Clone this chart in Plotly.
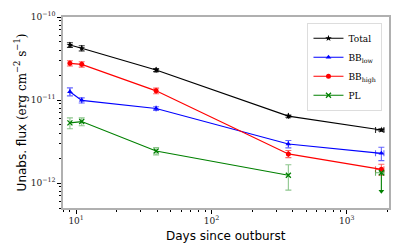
import plotly.graph_objects as go
import numpy as np

# Data
days = [9.0, 11.0, 39.0, 370.0, 1800.0]
days_err_minus = [0, 0, 0, 0, 170.0]
days_err_plus = [0, 0, 0, 0, 80.0]

total = [4.6e-11, 4.2e-11, 2.3e-11, 6.4e-12, 4.35e-12]
total_err = [0.3e-11, 0.3e-11, 0.1e-11, 0.2e-12, 0.15e-12]

bb_low = [1.26e-11, 9.9e-12, 7.9e-12, 2.95e-12, 2.28e-12]
bb_low_err = [0.14e-11, 0.7e-12, 0.4e-12, 0.3e-12, 0.42e-12]

bb_high = [2.77e-11, 2.69e-11, 1.29e-11, 2.24e-12, 1.46e-12]
bb_high_err = [0.2e-11, 0.2e-11, 0.1e-11, 0.22e-12, 0.22e-12]

pl_days = [9.0, 11.0, 39.0, 370.0]
pl = [5.3e-12, 5.5e-12, 2.43e-12, 1.24e-12]
pl_err = [0.8e-12, 0.6e-12, 0.25e-12, 0.42e-12]

pl_ul_days = [1800.0]
pl_ul = [1.33e-12]
pl_ul_arrow_factor = 0.6  # arrow length (relative)

SERIF = "DejaVu Serif"
SANS = "DejaVu Sans"

fig = go.Figure()

def add_series(x, y, err, color, symbol, name, size, ecolor, xm=None, xp=None, showlegend=True, mline=0):
    kw = {}
    if xm is not None:
        kw["error_x"] = dict(type="data", symmetric=False, array=xp, arrayminus=xm,
                             color=ecolor, thickness=1.1, width=3)
    fig.add_trace(go.Scatter(
        x=x, y=y, mode="lines+markers", name=name, showlegend=showlegend,
        line=dict(color=color, width=1.2),
        marker=dict(symbol=symbol, size=size, color=color, line=dict(width=mline, color=color)),
        error_y=dict(type="data", array=err, color=ecolor, thickness=1.1, width=3),
        **kw))

add_series(days, total, total_err, "black", "star", "Total", 5, "rgba(0,0,0,0.8)",
           days_err_minus, days_err_plus)
add_series(days, bb_low, bb_low_err, "#0000ff", "triangle-up", "BB<sub>low</sub>", 5,
           "rgba(0,0,255,0.6)", days_err_minus, days_err_plus)
add_series(days, bb_high, bb_high_err, "#ff0000", "circle", "BB<sub>high</sub>", 5,
           "rgba(255,0,0,0.6)", days_err_minus, days_err_plus)
add_series(pl_days, pl, pl_err, "#008000", "x-thin-open", "PL", 5, "rgba(0,128,0,0.45)", mline=1.3)

# PL upper limit
ul_low = [v * pl_ul_arrow_factor for v in pl_ul]
fig.add_trace(go.Scatter(
    x=pl_ul_days, y=pl_ul, mode="markers", showlegend=False,
    marker=dict(symbol="x-thin-open", size=5, color="#008000", line=dict(width=1.3, color="#008000")),
    error_x=dict(type="data", symmetric=False, array=[days_err_plus[-1]],
                 arrayminus=[days_err_minus[-1]], color="rgba(0,128,0,0.6)", thickness=1.1, width=3),
    error_y=dict(type="data", symmetric=False, array=[0],
                 arrayminus=[pl_ul[0] - ul_low[0]], color="#008000", thickness=1.1, width=0)))
fig.add_trace(go.Scatter(
    x=pl_ul_days, y=ul_low, mode="markers", showlegend=False,
    marker=dict(symbol="triangle-down", size=5, color="#008000")))

sup = lambda e: f"10<sup>{e}</sup>"
ytickvals = [1e-12, 1e-11, 1e-10]
yticktext = [sup("−12"), sup("−11"), sup("−10")]
xtickvals = [10, 100, 1000]
xticktext = [sup("1"), sup("2"), sup("3")]

yminor = [m * 10.0 ** e for e in (-13, -12, -11) for m in range(2, 10)]
xminor = [m * 10.0 ** e for e in (0, 1, 2, 3) for m in range(2, 10)]

axis_color = "#b0b0b0"
fig.update_xaxes(
    type="log", range=[np.log10(8.0), np.log10(2050)], automargin=False,
    tickvals=xtickvals, ticktext=xticktext,
    ticks="outside", ticklen=4, tickwidth=1, tickcolor="black",
    minor=dict(tickvals=xminor, ticks="outside", ticklen=2.5, tickwidth=0.8, tickcolor="black"),
    showline=True, linecolor=axis_color, linewidth=1.5, mirror=True,
    showgrid=False, zeroline=False, ticklabelstandoff=-1,
    tickfont=dict(family=SERIF, size=9, color="#222"),
)
fig.update_yaxes(
    type="log", range=[np.log10(5e-13), -10], automargin=False,
    tickvals=ytickvals, ticktext=yticktext,
    ticks="outside", ticklen=4, tickwidth=1, tickcolor="black",
    minor=dict(tickvals=yminor, ticks="outside", ticklen=2.5, tickwidth=0.8, tickcolor="black"),
    showline=True, linecolor=axis_color, linewidth=1.5, mirror=True,
    showgrid=False, zeroline=False,
    tickfont=dict(family=SERIF, size=9, color="#222"),
    title=dict(text="Unabs. flux <span style='font-family:DejaVu Serif'>(erg cm<sup>−2</sup> s<sup>−1</sup>)</span>",
               font=dict(family=SANS, size=12, color="black"), standoff=2),
)

fig.add_annotation(text="Days since outburst", xref="paper", yref="paper",
                   x=0.5, y=-0.147, xanchor="center", yanchor="middle", showarrow=False,
                   font=dict(family=SANS, size=12, color="black"))

# page body has an 8px margin: compensate so plot area lands where the reference has it
fig.update_layout(
    width=399, height=237,
    margin=dict(l=55, r=18, t=9, b=37),
    paper_bgcolor="white", plot_bgcolor="white",
    showlegend=True,
    legend=dict(x=0.98, y=0.97, xanchor="right", yanchor="top",
                bgcolor="rgba(255,255,255,0.9)", bordercolor="#dddddd", borderwidth=1,
                font=dict(family=SERIF, size=9, color="black"),
                itemwidth=30, tracegroupgap=0),
)

fig.write_html("out.html")
